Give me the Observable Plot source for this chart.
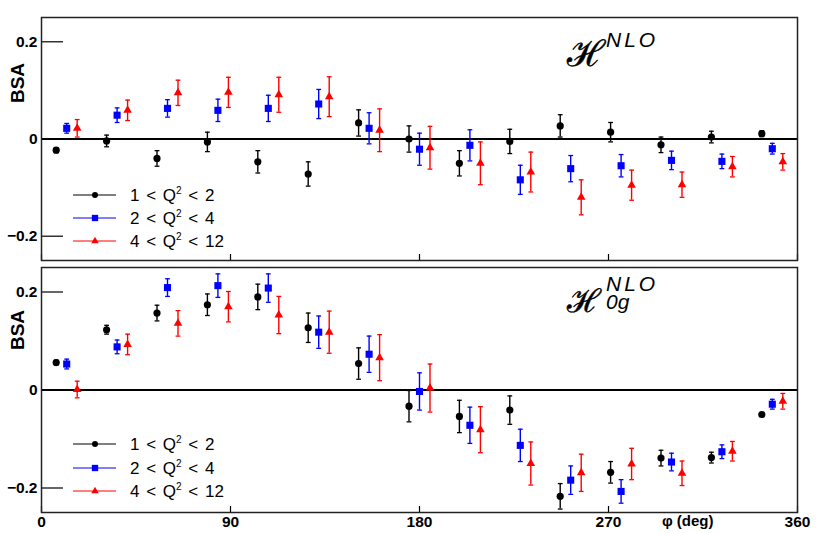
<!DOCTYPE html>
<html><head><meta charset="utf-8">
<script src="https://cdn.jsdelivr.net/npm/d3@7"></script>
<script src="https://cdn.jsdelivr.net/npm/@observablehq/plot@0.6"></script>
<style>
html,body{margin:0;padding:0;background:#fff;}
#wrap{position:relative;width:830px;height:533px;font-family:"Liberation Sans",Arial,sans-serif;}
.panel{position:absolute;left:0;}
#overlay{position:absolute;left:0;top:0;pointer-events:none;}
</style>
</head><body>
<div id="wrap">
  <div id="top" class="panel" style="top:0"></div>
  <div id="bot" class="panel" style="top:262px"></div>
  <svg id="overlay" width="830" height="533"></svg>
</div>
<script>
// ---------- data ----------
const phi1 = [7,31,55,79,103,127,151,175,199,223,247,271,295,319,343];
const phi2 = [12,36,60,84,108,132,156,180,204,228,252,276,300,324,348];
const phi3 = [17,41,65,89,113,137,161,185,209,233,257,281,305,329,353];

// Panel 1: H^NLO
const bsaTop1 = [-0.023,-0.004,-0.040,-0.006,-0.047,-0.072,0.033,0.000,-0.050,-0.005,0.027,0.014,-0.012,0.004,0.011];
const errTop1 = [0.005,0.012,0.016,0.020,0.023,0.025,0.027,0.027,0.026,0.025,0.023,0.020,0.016,0.012,0.006];
const bsaTop2 = [0.022,0.049,0.063,0.059,0.063,0.072,0.022,-0.021,-0.013,-0.084,-0.061,-0.055,-0.044,-0.046,-0.020];
const errTop2 = [0.010,0.015,0.018,0.023,0.027,0.030,0.032,0.033,0.032,0.030,0.027,0.023,0.019,0.015,0.011];
const bsaTop3 = [0.022,0.059,0.095,0.096,0.091,0.087,0.018,-0.018,-0.050,-0.068,-0.120,-0.095,-0.094,-0.057,-0.047];
const errTop3 = [0.018,0.021,0.026,0.031,0.036,0.041,0.044,0.044,0.044,0.041,0.036,0.031,0.026,0.021,0.017];

// Panel 2: H^NLO_0g
const bsaBot1 = [0.056,0.123,0.157,0.174,0.190,0.127,0.054,-0.033,-0.054,-0.041,-0.217,-0.168,-0.139,-0.138,-0.050];
const errBot1 = [0.005,0.009,0.016,0.022,0.026,0.030,0.032,0.032,0.033,0.029,0.026,0.022,0.016,0.011,0.004];
const bsaBot2 = [0.053,0.088,0.209,0.213,0.208,0.118,0.073,-0.003,-0.072,-0.113,-0.184,-0.207,-0.147,-0.126,-0.029];
const errBot2 = [0.010,0.014,0.018,0.024,0.029,0.033,0.037,0.038,0.037,0.033,0.029,0.024,0.018,0.014,0.010];
const bsaBot3 = [0.001,0.093,0.136,0.170,0.153,0.118,0.066,0.004,-0.081,-0.150,-0.169,-0.151,-0.170,-0.125,-0.023];
const errBot3 = [0.017,0.021,0.026,0.031,0.038,0.043,0.047,0.049,0.047,0.044,0.038,0.032,0.025,0.020,0.016];

const q2Lo = [1, 2, 4];
const q2Hi = [2, 4, 12];
const seriesColors = ["#000000", "#0000ff", "#ff0000"];
const seriesSymbols = ["circle", "square", "triangle"];
const yTicks = [-0.2, 0, 0.2];
const xTicks = [0, 90, 180, 270, 360];

// ---------- chart ----------
const W = 830, ML = 41, MR = 33;
const capSym = {draw(ctx) { ctx.moveTo(-2.4, 0); ctx.lineTo(2.4, 0); }};
const symR = {circle: 3.6, square: 4.0, triangle: 3.2};

function rows(phi, v, e) { return phi.map((p, i) => ({phi: p, v: v[i], e: e[i]})); }

function panel(seriesRows, height, mt, mb, showX) {
  const innerW = W - ML - MR, innerH = height - mt - mb;
  const marks = [
    Plot.ruleY([0], {stroke: "#000", strokeWidth: 2}),
    Plot.tickY(yTicks, {y: d => d, insetRight: innerW - 22, stroke: "#000", strokeWidth: 1.2}),
    Plot.tickX(xTicks, {x: d => d, insetTop: innerH - 6, stroke: "#000", strokeWidth: 1.2}),
    Plot.axisY({ticks: yTicks, tickSize: 0, tickPadding: 4, label: null,
      tickFormat: d => d === 0 ? "0" : (d < 0 ? "\u2212" + Math.abs(d) : String(d))})
  ];
  seriesRows.forEach((r, s) => {
    const c = seriesColors[s];
    marks.push(
      Plot.ruleX(r, {x: "phi", y1: d => d.v - d.e, y2: d => d.v + d.e, stroke: c, strokeWidth: 1.4}),
      Plot.dot(r, {x: "phi", y: d => d.v - d.e, symbol: capSym, stroke: c, fill: "none", strokeWidth: 1.3}),
      Plot.dot(r, {x: "phi", y: d => d.v + d.e, symbol: capSym, stroke: c, fill: "none", strokeWidth: 1.3}),
      Plot.dot(r, {x: "phi", y: "v", symbol: seriesSymbols[s], r: symR[seriesSymbols[s]], fill: c, stroke: "none"})
    );
  });
  if (showX) {
    marks.push(
      Plot.axisX({ticks: xTicks, tickSize: 0, tickPadding: 3, label: null}),
      Plot.text(["\u03c6 (deg)"], {text: d => d, frameAnchor: "bottom-right", dx: -84, dy: 3,
        textAnchor: "end", lineAnchor: "top", fontSize: 15, fontWeight: "bold"})
    );
  }
  marks.push(Plot.frame({stroke: "#222", strokeWidth: 1.5}));
  return Plot.plot({
    width: W, height, marginLeft: ML, marginRight: MR, marginTop: mt, marginBottom: mb,
    x: {domain: [0, 360], axis: null},
    y: {domain: [-0.25, 0.25], axis: null},
    style: {fontFamily: "'Liberation Sans', Arial, sans-serif", fontSize: "15.5px", fontWeight: "bold", background: "transparent", color: "#000"},
    marks
  });
}

document.getElementById("top").append(panel([
  rows(phi1, bsaTop1, errTop1), rows(phi2, bsaTop2, errTop2), rows(phi3, bsaTop3, errTop3)
], 262, 17, 2, false));
document.getElementById("bot").append(panel([
  rows(phi1, bsaBot1, errBot1), rows(phi2, bsaBot2, errBot2), rows(phi3, bsaBot3, errBot3)
], 271, 5, 21, true));

// ---------- overlay: axis titles, panel titles, legends ----------
const ov = d3.select("#overlay");
const SANS = "'Liberation Sans', Arial, sans-serif";
function yTitle(cy) {
  ov.append("text").attr("transform", `translate(17,${cy}) rotate(-90)`)
    .attr("text-anchor", "middle").attr("dominant-baseline", "central")
    .attr("font-family", SANS).attr("font-weight", "bold").attr("font-size", 19).text("BSA");
}
yTitle(83);
yTitle(330);

function title(yH, sizeH, yNLO, sub) {
  ov.append("text").attr("x", 567).attr("y", yH).attr("font-family", "'DejaVu Serif', serif")
    .attr("font-size", sizeH)
    .attr("stroke", "#000").attr("stroke-width", 0.5).text("\u210B");
  ov.append("text").attr("x", 606).attr("y", yNLO).attr("font-family", SANS)
    .attr("font-style", "italic").attr("font-size", 21).attr("letter-spacing", 3).text("NLO");
  if (sub) ov.append("text").attr("x", 606).attr("y", yNLO + 18).attr("font-family", SANS)
    .attr("font-style", "italic").attr("font-size", 21).text(sub);
}
title(66, 36, 47, null);
title(312, 32, 291, "0g");

const d3Sym = {circle: d3.symbolCircle, square: d3.symbolSquare, triangle: d3.symbolTriangle};
const legSize = {circle: 28, square: 40, triangle: 24};
function legend(rowsY) {
  rowsY.forEach((y, s) => {
    const c = seriesColors[s];
    ov.append("line").attr("x1", 73).attr("x2", 116).attr("y1", y).attr("y2", y).attr("stroke", c).attr("stroke-width", 1.2);
    ov.append("path").attr("transform", `translate(95,${y})`)
      .attr("d", d3.symbol().type(d3Sym[seriesSymbols[s]]).size(legSize[seriesSymbols[s]])()).attr("fill", c);
    const t = ov.append("text").attr("x", 130).attr("y", y + 6)
      .attr("font-family", SANS).attr("font-size", 17).attr("word-spacing", 2);
    t.append("tspan").text(`${q2Lo[s]} < Q`);
    t.append("tspan").attr("dy", -7).attr("font-size", 10).text("2");
    t.append("tspan").attr("dy", 7).text(` < ${q2Hi[s]}`);
  });
}
legend([195, 218, 241]);
legend([444, 468, 491]);
</script>
</body></html>
